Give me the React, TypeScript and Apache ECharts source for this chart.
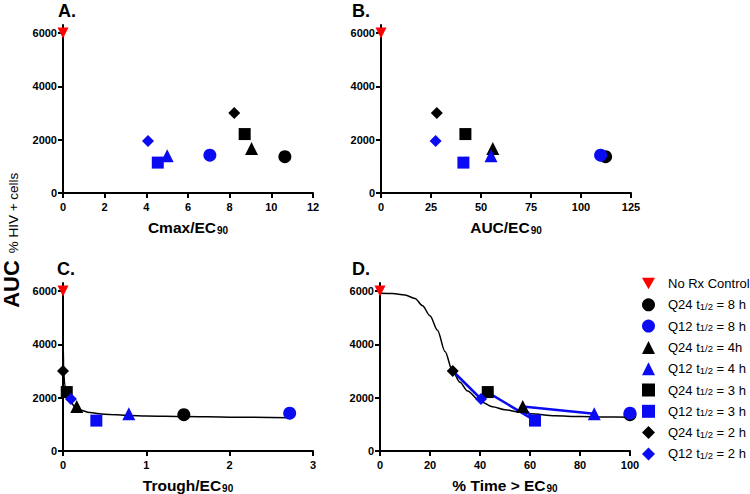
import React, { useEffect, useRef } from "react";
import * as echarts from "echarts";

// ---- data ----
const groups = [
  "No Rx Control",
  "Q24 t1/2 = 8 h",
  "Q12 t1/2 = 8 h",
  "Q24 t1/2 = 4h",
  "Q12 t1/2 = 4 h",
  "Q24 t1/2 = 3 h",
  "Q12 t1/2 = 3 h",
  "Q24 t1/2 = 2 h",
  "Q12 t1/2 = 2 h",
];
const aucHiv = [6000, 1360, 1420, 1670, 1400, 2210, 1140, 3000, 1950];
const cmaxRatio = [0, 10.65, 7.05, 9.05, 5.0, 8.72, 4.55, 8.22, 4.08];
const aucRatio = [0, 112.3, 109.8, 55.9, 55.0, 42.2, 41.2, 27.9, 27.3];
const troughRatio = [0, 1.45, 2.72, 0.165, 0.79, 0.045, 0.4, 0.0, 0.095];
const timeAbove = [0, 100, 100, 57.1, 85.7, 43.1, 62, 29.1, 40.4];

const curveCX = [0, 0.002, 0.008, 0.02, 0.04, 0.07, 0.1, 0.144, 0.2, 0.32, 0.5, 0.79, 1.0, 1.45, 2.0, 2.72];
const curveCY = [6000, 4000, 3000, 2500, 2200, 1950, 1800, 1650, 1540, 1440, 1380, 1330, 1310, 1290, 1270, 1245];

const curveDX = [0, 5, 10, 14, 17, 20, 23, 26, 29, 32, 35, 40, 45, 50, 55, 60, 70, 80, 90, 100];
const curveDY = [5920, 5910, 5850, 5720, 5450, 5070, 4530, 3730, 3000, 2580, 2250, 1870, 1660, 1550, 1470, 1400, 1320, 1290, 1275, 1270];

const blueLineX = [29.1, 40.4, 43.1, 62, 57.1, 85.7];
const blueLineY = [3000, 1950, 2200, 1140, 1670, 1400];

const yTicks = [0, 2000, 4000, 6000];

const panelTitles = ["A.", "B.", "C.", "D."];
const xNames = ["Cmax/EC{sub|90}", "AUC/EC{sub|90}", "Trough/EC{sub|90}", "% Time > EC{sub|90}"];
const xMax = [12, 125, 3, 100];
const xInterval = [2, 25, 1, 20];

// ---- styles ----
const BLACK = "#000000";
const BLUE = "#0b0bf2";
const RED = "#ff0000";
const FONT = "'Liberation Sans', Arial, sans-serif";

const groupColor = [RED, BLACK, BLUE, BLACK, BLUE, BLACK, BLUE, BLACK, BLUE];
const groupSymbol = ["triangle", "circle", "circle", "triangle", "triangle", "rect", "rect", "diamond", "diamond"];
const groupSize = [11, 13, 13, 13, 13, 12, 12, 12, 12];
const groupRotate = [180, 0, 0, 0, 0, 0, 0, 0, 0];
const DOWN_TRIANGLE = "path://M0,0 L10,0 L5,9 Z";

const gridBoxes = [
  { left: 63, top: 25, width: 250, height: 168 },
  { left: 381, top: 25, width: 250, height: 168 },
  { left: 63, top: 283, width: 250, height: 168 },
  { left: 380, top: 283, width: 250, height: 168 },
];
const titlePos = [
  { x: 58, y: 2 },
  { x: 352, y: 2 },
  { x: 57, y: 260 },
  { x: 352, y: 260 },
];

export default function App() {
  const ref = useRef<HTMLDivElement>(null);

  useEffect(() => {
    if (!ref.current) return;
    const chart = echarts.init(ref.current, undefined, { renderer: "svg" });

    const xData = [cmaxRatio, aucRatio, troughRatio, timeAbove];

    const axisCommon = {
      axisLine: { show: true, onZero: false, lineStyle: { color: BLACK, width: 2 } },
      axisTick: { show: true, length: 5, lineStyle: { color: BLACK, width: 2 } },
      splitLine: { show: false },
    };
    const labelCommon = {
      color: BLACK,
      fontWeight: "bold" as const,
      fontSize: 11,
      fontFamily: FONT,
      formatter: (v: number) => String(v),
    };

    const xAxis = gridBoxes.map((_, i) => ({
      type: "value",
      gridIndex: i,
      min: 0,
      max: xMax[i],
      interval: xInterval[i],
      ...axisCommon,
      axisLabel: { ...labelCommon, margin: 8 },
      name: xNames[i],
      nameLocation: "middle",
      nameGap: 26,
      nameTextStyle: {
        color: BLACK,
        fontWeight: "bold",
        fontSize: 15.5,
        fontFamily: FONT,
        rich: {
          sub: { fontSize: 10, fontWeight: "bold", fontFamily: FONT, color: BLACK, verticalAlign: "bottom", padding: [0, 0, 0, 1] },
        },
      },
    }));

    const yAxis = gridBoxes.map((_, i) => ({
      type: "value",
      gridIndex: i,
      min: 0,
      max: 6300,
      ...axisCommon,
      axisTick: { ...axisCommon.axisTick, customValues: yTicks },
      axisLabel: { ...labelCommon, margin: 6, customValues: yTicks },
    }));

    const series: any[] = [];
    series.push({
      type: "line",
      xAxisIndex: 2,
      yAxisIndex: 2,
      data: curveCX.map((x, k) => [x, curveCY[k]]),
      symbol: "none",
      smooth: 0.3,
      smoothMonotone: "x",
      lineStyle: { color: BLACK, width: 1.5 },
      z: 1,
      silent: true,
    });
    series.push({
      type: "line",
      xAxisIndex: 3,
      yAxisIndex: 3,
      data: curveDX.map((x, k) => [x, curveDY[k]]),
      symbol: "none",
      smooth: 0.3,
      smoothMonotone: "x",
      lineStyle: { color: BLACK, width: 1.5 },
      z: 1,
      silent: true,
    });
    series.push({
      type: "line",
      xAxisIndex: 3,
      yAxisIndex: 3,
      data: blueLineX.map((x, k) => [x, blueLineY[k]]),
      symbol: "none",
      lineStyle: { color: BLUE, width: 2.5 },
      z: 2,
      silent: true,
    });

    for (let p = 0; p < 4; p++) {
      groups.forEach((g, i) => {
        series.push({
          type: "scatter",
          name: g,
          xAxisIndex: p,
          yAxisIndex: p,
          data: [[xData[p][i], aucHiv[i]]],
          symbol: groupSymbol[i],
          symbolSize: groupSize[i],
          symbolRotate: groupRotate[i],
          itemStyle: { color: groupColor[i], opacity: 1 },
          clip: false,
          z: 3,
        });
      });
    }

    const graphic: any[] = panelTitles.map((t, i) => ({
      type: "text",
      x: titlePos[i].x,
      y: titlePos[i].y,
      style: {
        text: t,
        fontSize: 18,
        fontWeight: "bold",
        fontFamily: FONT,
        fill: BLACK,
      },
    }));
    graphic.push({
      type: "text",
      x: 11,
      y: 284,
      rotation: Math.PI / 2,
      style: {
        text: "AUC",
        fontSize: 22,
        fontWeight: "bold",
        fontFamily: FONT,
        fill: BLACK,
        align: "center",
        verticalAlign: "middle",
      },
    });
    graphic.push({
      type: "text",
      x: 13,
      y: 213,
      rotation: Math.PI / 2,
      style: {
        text: "% HIV + cells",
        fontSize: 13.5,
        fontWeight: "normal",
        fontFamily: FONT,
        fill: BLACK,
        align: "center",
        verticalAlign: "middle",
      },
    });

    const legendData = groups.map((g, i) =>
      i === 0 ? { name: g, icon: DOWN_TRIANGLE } : { name: g }
    );

    chart.setOption({
      animation: false,
      backgroundColor: "#ffffff",
      grid: gridBoxes.map((b) => ({ ...b, containLabel: false })),
      xAxis,
      yAxis,
      series,
      graphic,
      legend: {
        orient: "vertical",
        left: 642,
        top: 277,
        padding: 0,
        itemWidth: 13,
        itemHeight: 13,
        itemGap: 8.3,
        data: legendData,
        formatter: (name: string) => name.replace("t1/2", "t{sub|1/2}"),
        textStyle: {
          fontSize: 13,
          fontFamily: FONT,
          color: BLACK,
          lineHeight: 13,
          padding: [0, 0, 0, 8],
          rich: {
            sub: { fontSize: 9.5, fontFamily: FONT, color: BLACK, verticalAlign: "bottom", lineHeight: 5 },
          },
        },
      },
    });

    return () => chart.dispose();
  }, []);

  return (
    <div
      ref={ref}
      style={{ position: "absolute", left: 0, top: 0, width: 750, height: 494, background: "#fff" }}
    />
  );
}
